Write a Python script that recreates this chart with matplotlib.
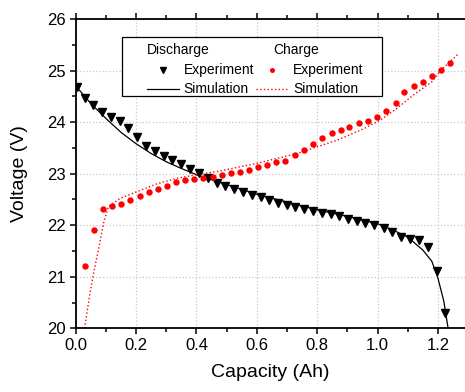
import matplotlib
matplotlib.use("Agg")
import matplotlib.pyplot as plt
from matplotlib.lines import Line2D
from matplotlib.patches import Rectangle
from matplotlib.ticker import MultipleLocator

plt.rcParams['font.family'] = ['Liberation Sans', 'DejaVu Sans']

# ── DATA ──────────────────────────────────────────────────────
dis_exp_x = [0.005, 0.029, 0.058, 0.087, 0.116, 0.145, 0.173, 0.203, 0.233,
             0.262, 0.292, 0.320, 0.349, 0.379, 0.408, 0.438, 0.468, 0.496,
             0.525, 0.554, 0.584, 0.614, 0.641, 0.671, 0.700, 0.728, 0.757,
             0.786, 0.816, 0.845, 0.873, 0.902, 0.932, 0.960, 0.990, 1.020,
             1.049, 1.079, 1.108, 1.138, 1.166, 1.196, 1.225]
dis_exp_y = [24.69, 24.46, 24.33, 24.20, 24.10, 24.03, 23.89, 23.71, 23.54,
             23.43, 23.34, 23.26, 23.19, 23.09, 23.01, 22.91, 22.82, 22.77,
             22.70, 22.64, 22.59, 22.54, 22.48, 22.44, 22.39, 22.36, 22.31,
             22.28, 22.24, 22.21, 22.18, 22.13, 22.09, 22.05, 22.00, 21.94,
             21.87, 21.78, 21.74, 21.71, 21.58, 21.12, 20.29]

dis_sim_x = [0.0, 0.05, 0.1, 0.15, 0.2, 0.25, 0.3, 0.35, 0.4, 0.45, 0.5,
             0.6, 0.7, 0.8, 0.9, 1.0, 1.05, 1.1, 1.15, 1.18, 1.2, 1.22, 1.234]
dis_sim_y = [24.70, 24.36, 24.07, 23.80, 23.58, 23.39, 23.23, 23.10, 22.98,
             22.88, 22.79, 22.60, 22.45, 22.30, 22.17, 22.03, 21.91, 21.77,
             21.52, 21.30, 20.98, 20.52, 20.0]

chg_exp_x = [0.029, 0.060, 0.090, 0.120, 0.151, 0.181, 0.212, 0.242, 0.273,
             0.303, 0.333, 0.362, 0.392, 0.423, 0.454, 0.484, 0.514, 0.544,
             0.575, 0.605, 0.635, 0.665, 0.695, 0.726, 0.757, 0.787, 0.817,
             0.848, 0.878, 0.907, 0.939, 0.968, 0.998, 1.029, 1.060, 1.089,
             1.120, 1.150, 1.179, 1.209, 1.239]
chg_exp_y = [21.20, 21.91, 22.31, 22.37, 22.41, 22.48, 22.57, 22.65, 22.70,
             22.77, 22.84, 22.88, 22.90, 22.92, 22.94, 22.97, 23.01, 23.03,
             23.07, 23.12, 23.17, 23.22, 23.24, 23.37, 23.46, 23.58, 23.69,
             23.78, 23.85, 23.91, 23.98, 24.03, 24.10, 24.21, 24.38, 24.58,
             24.70, 24.77, 24.89, 25.02, 25.15]

chg_sim_x = [0.029, 0.047, 0.061, 0.075, 0.092, 0.108, 0.147, 0.202, 0.268,
             0.335, 0.401, 0.468, 0.6, 0.733, 0.866, 0.95, 1.01, 1.065, 1.12,
             1.18, 1.209, 1.269]
chg_sim_y = [20.0, 20.68, 21.13, 21.52, 22.04, 22.36, 22.52, 22.65, 22.80,
             22.91, 22.98, 23.04, 23.20, 23.39, 23.65, 23.86, 24.04, 24.27,
             24.53, 24.78, 25.00, 25.33]

RED = '#ff0000'

fig = plt.figure(figsize=(4.65, 3.92), dpi=100)
ax = fig.add_axes([0.163, 0.1625, 0.837, 0.789])

ax.plot(dis_exp_x, dis_exp_y, 'v', color='black', ms=5.5, zorder=3)
ax.plot(dis_sim_x, dis_sim_y, '-', color='black', lw=0.9, zorder=2)
ax.plot(chg_exp_x, chg_exp_y, 'o', color=RED, ms=4.6, mec='none', zorder=3)
ax.plot(chg_sim_x, chg_sim_y, ':', color=RED, lw=1.0, zorder=2)

ax.set_xlim(0, 1.29)
ax.set_ylim(20, 26)
ax.xaxis.set_major_locator(MultipleLocator(0.2))
ax.xaxis.set_minor_locator(MultipleLocator(0.1))
ax.yaxis.set_major_locator(MultipleLocator(1))
ax.yaxis.set_minor_locator(MultipleLocator(0.5))
ax.xaxis.set_major_formatter(plt.FuncFormatter(lambda v, p: f"{v:.1f}"))
ax.tick_params(which='both', direction='out', top=True, right=False,
               labelsize=12, width=1.1, pad=2.5)
ax.tick_params(which='major', length=4.5)
ax.tick_params(which='minor', length=2.8)
ax.spines['right'].set_visible(False)
for s in ('left', 'bottom', 'top'):
    ax.spines[s].set_linewidth(1.3)
ax.grid(which='major', color='#c8c8c8', ls=':', lw=0.9)
ax.set_axisbelow(True)

ax.set_xlabel('Capacity (Ah)', fontsize=14, labelpad=8)
ax.set_ylabel('Voltage (V)', fontsize=14, labelpad=14)

# legend: two columns with headers
blank = Line2D([], [], ls='none')
handles = [blank,
           Line2D([], [], ls='none', marker='v', color='black', ms=3.8),
           Line2D([], [], ls='-', color='black', lw=0.9),
           blank,
           Line2D([], [], ls='none', marker='o', color=RED, ms=3.6, mec='none'),
           Line2D([], [], ls=':', color=RED, lw=1.0)]
labels = [' ', 'Experiment', 'Simulation', ' ', 'Experiment', 'Simulation']
leg = ax.legend(handles, labels, ncol=2, frameon=False, loc='upper left',
                bbox_to_anchor=(0.1826, 0.918), fontsize=10,
                handlelength=2.3, handletextpad=0.35, columnspacing=0.15,
                labelspacing=0.36, borderpad=0, borderaxespad=0)
ax.add_patch(Rectangle((0.1183, 0.7520), 0.6685, 0.1910, transform=ax.transAxes,
                       fill=True, facecolor='white', edgecolor='black',
                       lw=0.9, zorder=4))
leg.set_zorder(5)
ax.text(0.1826, 0.8998, 'Discharge', transform=ax.transAxes, fontsize=10,
        va='center', ha='left', zorder=6)
ax.text(0.5080, 0.8998, 'Charge', transform=ax.transAxes, fontsize=10,
        va='center', ha='left', zorder=6)

fig.savefig('out.png', dpi=100)
